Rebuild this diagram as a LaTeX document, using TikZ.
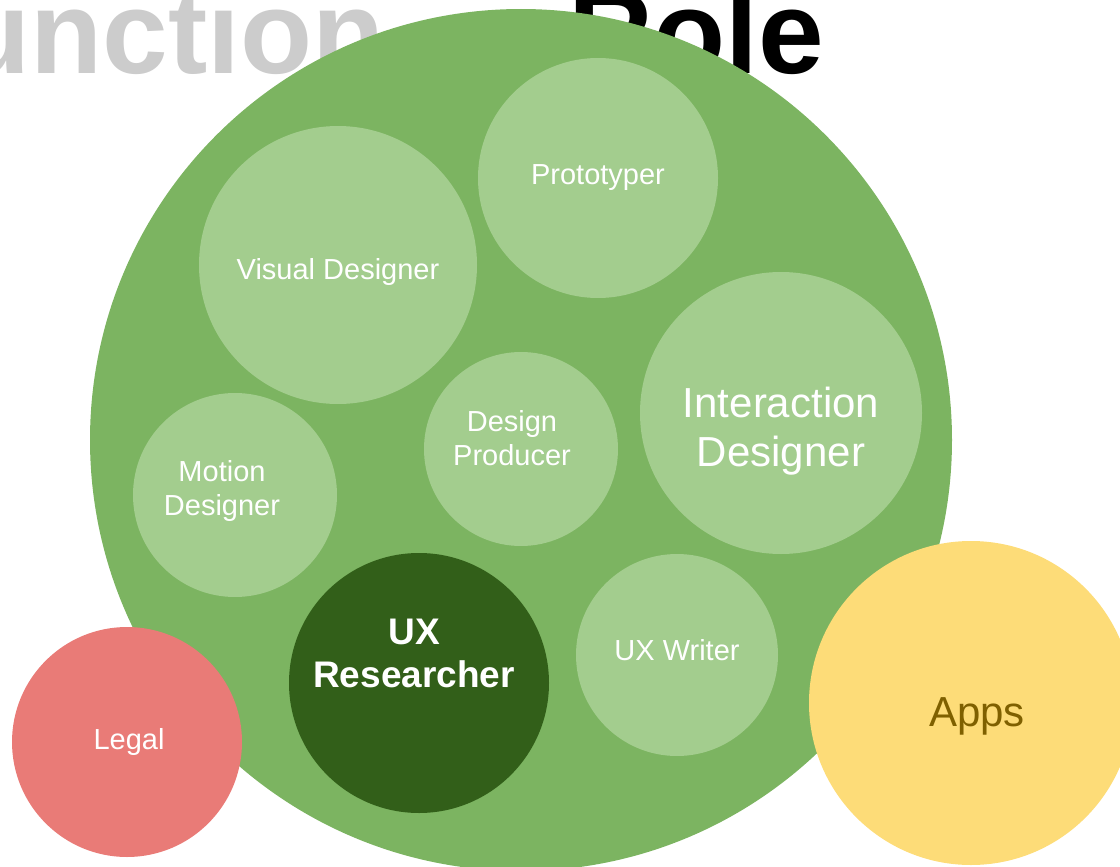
\documentclass[tikz,border=0pt]{standalone}
\usepackage{fontspec}
\setmainfont{Liberation Sans}
\definecolor{rolegreen}{HTML}{7CB461}
\definecolor{palegreen}{HTML}{A3CD8E}
\definecolor{darkgreen}{HTML}{325F19}
\definecolor{legalred}{HTML}{E97B77}
\definecolor{appsyellow}{HTML}{FDDC78}
\definecolor{appsbrown}{HTML}{7F6000}
\definecolor{titlegrey}{HTML}{CCCCCC}

\begin{document}
\begin{tikzpicture}[x=1pt, y=-1pt,
        bubble/.style={circle, inner sep=0pt, outer sep=0pt},
        rolelabel/.style={align=center, text=white, inner sep=0pt},
        smalltext/.style={font=\fontsize{29}{34}\selectfont},
        bigtext/.style={font=\fontsize{42}{49}\selectfont},
        titletext/.style={font=\fontsize{118}{118}\selectfont\bfseries, inner sep=0pt}
    ]
    \useasboundingbox (0,0) rectangle (1120,867);
    \clip (0,0) rectangle (1120,867);
    % heading, half hidden behind the big circle
    \node[titletext, text=titlegrey, anchor=base east] (function) at (385,74) {Function};
    \node[titletext, text=black, anchor=base west] (rolehead) at (568,74) {Role};
    % the role as a whole
    \node[bubble, fill=rolegreen, minimum size=862] (role) at (521,440) {};
    % the single roles
    \node[bubble, fill=palegreen, minimum size=240] (proto) at (598,178) {};
    \node[rolelabel, smalltext] at (proto) {Prototyper};
    \node[bubble, fill=palegreen, minimum size=278] (visual) at (338,265) {};
    \node[rolelabel, smalltext, yshift=-7] at (visual) {Visual Designer};
    \node[bubble, fill=palegreen, minimum size=282] (inter) at (781,413) {};
    \node[rolelabel, bigtext, yshift=-18] at (inter) {Interaction\\Designer};
    \node[bubble, fill=palegreen, minimum size=194] (prod) at (521,449) {};
    \node[rolelabel, smalltext, xshift=-9, yshift=11] at (prod) {Design\\Producer};
    \node[bubble, fill=palegreen, minimum size=204] (motion) at (235,495) {};
    \node[rolelabel, smalltext, xshift=-13, yshift=4] at (motion) {Motion\\Designer};
    \node[bubble, fill=darkgreen, minimum size=260] (uxr) at (419,683) {};
    \node[rolelabel, font=\fontsize{37}{43}\selectfont\bfseries, xshift=-5, yshift=30] at (uxr) {UX\\Researcher};
    \node[bubble, fill=palegreen, minimum size=202] (writer) at (677,655) {};
    \node[rolelabel, smalltext, yshift=5] at (writer) {UX Writer};
    % neighbouring functions
    \node[bubble, fill=legalred, minimum size=230] (legal) at (127,742) {};
    \node[rolelabel, smalltext, xshift=2] at (legal) {Legal};
    \node[bubble, fill=appsyellow, minimum size=324] (apps) at (971,703) {};
    \node[rolelabel, bigtext, text=appsbrown, xshift=6, yshift=-13] at (apps) {Apps};
\end{tikzpicture}
\end{document}
